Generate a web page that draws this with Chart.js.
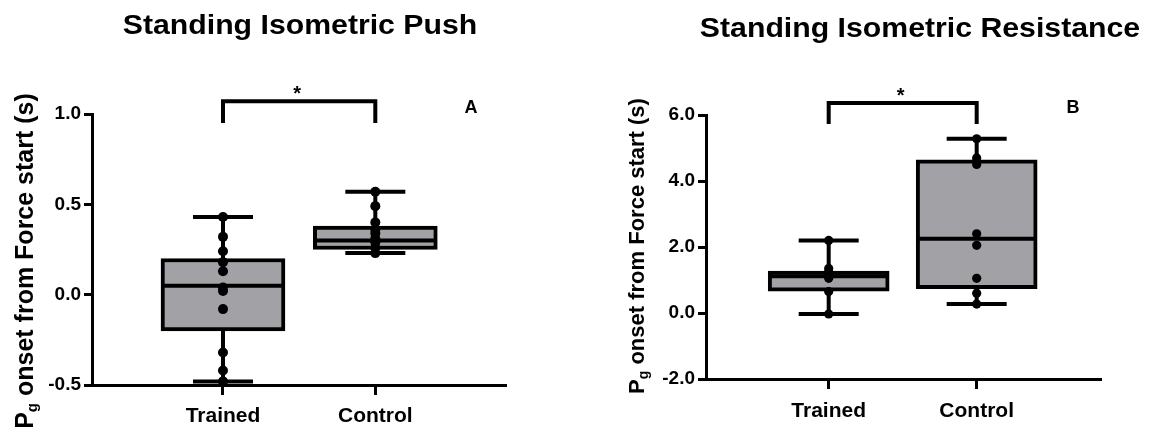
<!DOCTYPE html>
<html><head><meta charset="utf-8">
<script src="https://cdn.jsdelivr.net/npm/chart.js@4.4.0/dist/chart.umd.min.js"></script>
<style>
html,body{margin:0;padding:0;background:#fff;}
#wrap{position:relative;width:1150px;height:429px;overflow:hidden;background:#fff;}
canvas{position:absolute;top:0;}
</style></head><body>
<div id="wrap">
<canvas id="c1" width="575" height="429" style="left:0"></canvas>
<canvas id="c2" width="575" height="429" style="left:575px"></canvas>
</div>
<script>
const categories = ['Trained', 'Control'];

// Panel A – Standing Isometric Push
const pushTitle = 'Standing Isometric Push';
const pushYTicks = [-0.5, 0.0, 0.5, 1.0];
const pushTrained = [0.43, 0.32, 0.24, 0.18, 0.13, 0.04, 0.02, -0.08, -0.32, -0.42, -0.48];
const pushControl = [0.57, 0.49, 0.40, 0.36, 0.34, 0.31, 0.29, 0.26, 0.23];
// [lower whisker, Q1, median, Q3, upper whisker]
const pushTrainedBox = [-0.48, -0.20, 0.05, 0.20, 0.43];
const pushControlBox = [0.23, 0.25, 0.30, 0.38, 0.57];
const pushBracket = [0.95, 1.07];   // [leg end, bar level]

// Panel B – Standing Isometric Resistance
const resTitle = 'Standing Isometric Resistance';
const resYTicks = [-2.0, 0.0, 2.0, 4.0, 6.0];
const resTrained = [2.2, 1.35, 1.25, 1.15, 1.05, 0.65, -0.03];
const resControl = [5.28, 4.7, 4.6, 4.5, 2.4, 2.05, 1.05, 0.6, 0.27];
const resTrainedBox = [-0.03, 0.66, 1.11, 1.27, 2.2];
const resControlBox = [0.27, 0.74, 2.25, 4.64, 5.28];
const resBracket = [5.73, 6.36];

const yTitleMain = ' onset from Force start (s)';
const FONT = '"Liberation Sans", Arial, Helvetica, sans-serif';

function makePanel(id, o) {
  const boxes = [o.trainedBox, o.controlBox];
  const parts = {
    id: 'parts',
    afterDatasetDraw(chart, args) {
      if (args.index !== 0) return;
      const {ctx} = chart; const x = chart.scales.x, y = chart.scales.y;
      ctx.save();
      ctx.strokeStyle = '#000'; ctx.lineWidth = o.lw; ctx.lineCap = 'butt';
      boxes.forEach((b, i) => {
        const cx = x.getPixelForValue(i + 1);
        const hb = o.boxW / 2, hc = o.capW / 2;
        ctx.beginPath();
        ctx.moveTo(cx - hb + 1, y.getPixelForValue(b[2]));
        ctx.lineTo(cx + hb - 1, y.getPixelForValue(b[2]));
        ctx.moveTo(cx, y.getPixelForValue(b[3]));
        ctx.lineTo(cx, y.getPixelForValue(b[4]));
        ctx.moveTo(cx, y.getPixelForValue(b[1]));
        ctx.lineTo(cx, y.getPixelForValue(b[0]));
        ctx.moveTo(cx - hc, y.getPixelForValue(b[4]));
        ctx.lineTo(cx + hc, y.getPixelForValue(b[4]));
        ctx.moveTo(cx - hc, y.getPixelForValue(b[0]));
        ctx.lineTo(cx + hc, y.getPixelForValue(b[0]));
        ctx.stroke();
      });
      ctx.restore();
    },
    afterDraw(chart) {
      const {ctx} = chart; const x = chart.scales.x, y = chart.scales.y;
      ctx.save();
      ctx.fillStyle = '#000';
      ctx.font = `bold ${o.titleSize}px ${FONT}`;
      ctx.textAlign = 'center'; ctx.textBaseline = 'alphabetic';
      ctx.save();
      ctx.translate(o.titleX, o.titleBase);
      ctx.scale(o.titleSX, 1);
      ctx.fillText(o.title, 0, 0);
      ctx.restore();
      ctx.font = `bold 18px ${FONT}`;
      ctx.textBaseline = 'middle';
      ctx.fillText(o.letter, o.letterX, o.letterY);
      const x1 = x.getPixelForValue(1), x2 = x.getPixelForValue(2);
      const yl = y.getPixelForValue(o.bracket[0]), yt = y.getPixelForValue(o.bracket[1]);
      ctx.strokeStyle = '#000'; ctx.lineWidth = o.lw; ctx.lineJoin = 'miter';
      ctx.beginPath();
      ctx.moveTo(x1, yl); ctx.lineTo(x1, yt); ctx.lineTo(x2, yt); ctx.lineTo(x2, yl);
      ctx.stroke();
      ctx.font = `bold 20px ${FONT}`;
      ctx.textBaseline = 'alphabetic';
      ctx.fillText('*', (x1 + x2) / 2 - 2, yt - 1);
      ctx.save();
      ctx.translate(o.ylabX, o.ylabY);
      ctx.rotate(-Math.PI / 2);
      const main = `bold ${o.ylabSize}px ${FONT}`, sub = `bold ${o.subSize}px ${FONT}`;
      ctx.font = main; const wP = ctx.measureText('P').width; const wR = ctx.measureText(yTitleMain).width;
      ctx.font = sub; const wg = ctx.measureText('g').width;
      const total = wP + wg + wR;
      const base = o.ylabSize * 0.36;
      ctx.textAlign = 'left';
      let sx = -total / 2;
      ctx.font = main; ctx.fillText('P', sx, base); sx += wP;
      ctx.font = sub; ctx.fillText('g', sx, base + o.subShift); sx += wg;
      ctx.font = main; ctx.fillText(yTitleMain, sx, base);
      ctx.restore();
      ctx.restore();
    }
  };

  const pts = (vals, cat) => vals.map(v => ({x: cat, y: v}));
  return new Chart(document.getElementById(id), {
    type: 'bar',
    data: {
      datasets: [
        {
          type: 'bar', order: 2,
          data: [{x: 1, y: [o.trainedBox[1], o.trainedBox[3]]}, {x: 2, y: [o.controlBox[1], o.controlBox[3]]}],
          backgroundColor: '#a2a2a6', borderColor: '#000', borderWidth: o.lw,
          borderSkipped: false, barThickness: o.boxW
        },
        {
          type: 'line', order: 1, showLine: false, data: pts(o.trained, 1),
          pointRadius: o.r, pointBackgroundColor: '#000', pointBorderWidth: 0, pointHoverRadius: o.r
        },
        {
          type: 'line', order: 1, showLine: false, data: pts(o.control, 2),
          pointRadius: o.r, pointBackgroundColor: '#000', pointBorderWidth: 0, pointHoverRadius: o.r
        }
      ]
    },
    options: {
      responsive: false, animation: false, devicePixelRatio: 1,
      layout: {padding: {top: o.top, right: o.right, left: 0, bottom: 0}},
      plugins: {legend: {display: false}, tooltip: {enabled: false}, title: {display: false}},
      scales: {
        x: {
          type: 'linear', min: o.xmin, max: o.xmax, offset: false,
          afterBuildTicks: s => { s.ticks = categories.map((c, i) => ({value: i + 1})); },
          afterFit: s => { s.height = o.xh; },
          ticks: {
            callback: v => categories[Math.round(v) - 1], color: '#000', padding: o.xpad,
            font: {family: FONT, size: 21, weight: 'bold'}, maxRotation: 0, autoSkip: false
          },
          grid: {display: true, drawOnChartArea: false, drawTicks: true, tickLength: 10, tickWidth: 3, tickColor: '#000', offset: false},
          border: {display: true, color: '#000', width: 3}
        },
        y: {
          min: o.yTicks[0], max: o.yTicks[o.yTicks.length - 1],
          afterBuildTicks: s => { s.ticks = o.yTicks.map(v => ({value: v})); },
          afterFit: s => { s.width = o.yw; },
          ticks: {
            callback: v => v.toFixed(1), color: '#000', padding: 3,
            font: {family: FONT, size: 19, weight: 'bold'}
          },
          grid: {display: true, drawOnChartArea: false, drawTicks: true, tickLength: 8, tickWidth: 3, tickColor: '#000'},
          border: {display: true, color: '#000', width: 3}
        }
      }
    },
    plugins: [parts]
  });
}

makePanel('c1', {
  title: pushTitle, titleX: 300, titleBase: 34, titleSize: 27, titleSX: 1.12,
  letter: 'A', letterX: 471, letterY: 108,
  yTicks: pushYTicks, trained: pushTrained, control: pushControl,
  trainedBox: pushTrainedBox, controlBox: pushControlBox, bracket: pushBracket,
  xmin: 0.14, xmax: 2.858, yw: 92, xh: 44, top: 114, right: 69, xpad: 9,
  boxW: 124, capW: 60, lw: 4, r: 5,
  ylabX: 24, ylabY: 261, ylabSize: 25, subSize: 15, subShift: 4
});

makePanel('c2', {
  title: resTitle, titleX: 345, titleBase: 37, titleSize: 28, titleSX: 1.08,
  letter: 'B', letterX: 498, letterY: 108,
  yTicks: resYTicks, trained: resTrained, control: resControl,
  trainedBox: resTrainedBox, controlBox: resControlBox, bracket: resBracket,
  xmin: 0.171, xmax: 2.84, yw: 131, xh: 50, top: 115, right: 49, xpad: 10,
  boxW: 121, capW: 60, lw: 4, r: 4.6,
  ylabX: 61, ylabY: 246, ylabSize: 22, subSize: 14, subShift: 4
});
</script>
</body></html>
